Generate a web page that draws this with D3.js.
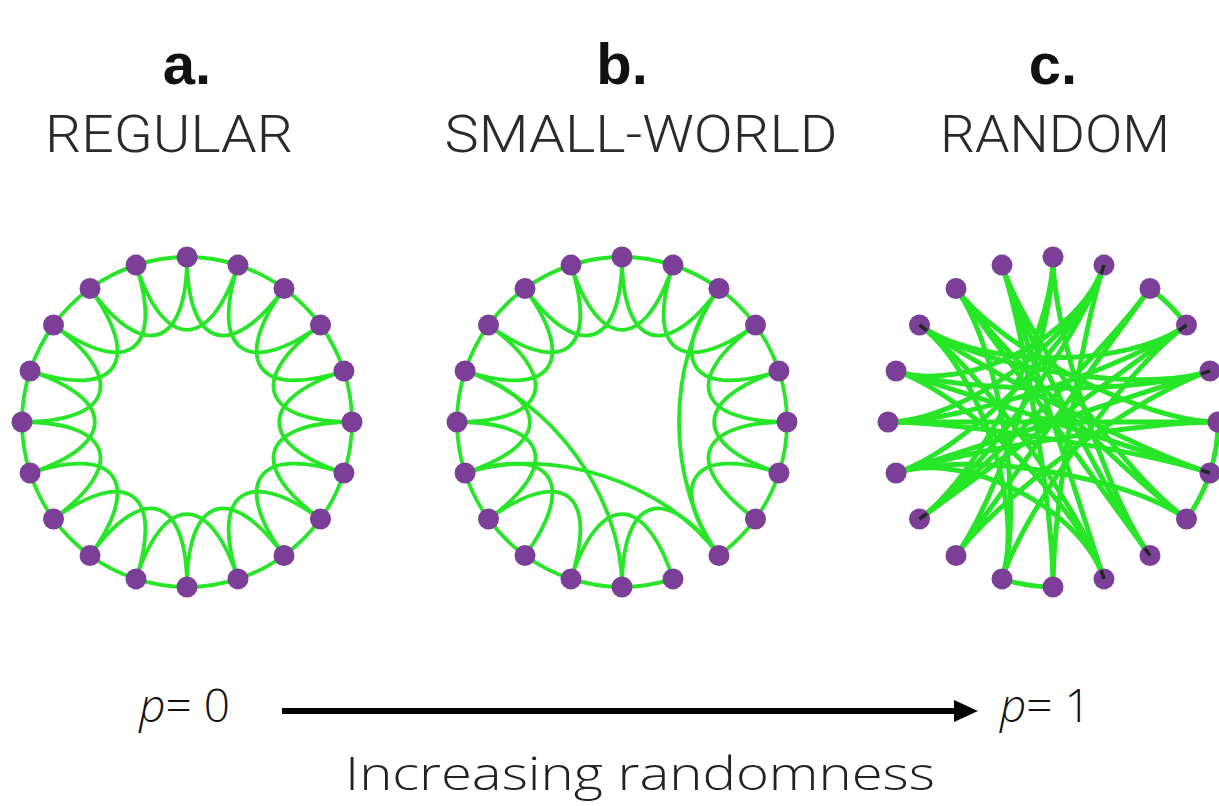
<!DOCTYPE html>
<html>
<head>
<meta charset="utf-8">
<script src="https://cdn.jsdelivr.net/npm/d3@7/dist/d3.min.js"></script>
<style>
  body { margin: 0; background: #fff; }
</style>
</head>
<body>
<svg id="chart" width="1219" height="806"></svg>
<script>
// ---- data ----
const panelLetters = ["a.", "b.", "c."];
const panelTitles = ["REGULAR", "SMALL-WORLD", "RANDOM"];
const nodeCount = 20;

// ring lattice, each node tied to its 2 neighbours on each side
const regularEdges = [
  [0,1],[1,2],[2,3],[3,4],[4,5],[5,6],[6,7],[7,8],[8,9],[9,10],
  [10,11],[11,12],[12,13],[13,14],[14,15],[15,16],[16,17],[17,18],[18,19],[19,0],
  [0,2],[1,3],[2,4],[3,5],[4,6],[5,7],[6,8],[7,9],[8,10],[9,11],
  [10,12],[11,13],[12,14],[13,15],[14,16],[15,17],[16,18],[17,19],[18,0],[19,1]
];

// a few of those rewired
const smallWorldEdges = [
  [0,1],[1,2],[2,3],[3,4],[4,5],[5,6],[6,7],[7,8],[9,10],
  [10,11],[11,12],[12,13],[13,14],[14,15],[15,16],[16,17],[17,18],[18,19],[19,0],
  [0,2],[1,3],[2,4],[3,5],[4,6],[5,7],[6,8],[8,10],[9,11],
  [11,13],[12,14],[13,15],[14,16],[15,17],[16,18],[17,19],[18,0],[19,1],
  [14,8],[16,10],[2,8]
];

// all rewired
const randomEdges = [
  [2,3],[10,11],[5,6],[6,7],[0,12],[0,8],[1,15],[1,14],[1,13],[1,16],
  [2,12],[3,17],[3,11],[3,13],[4,14],[4,16],[5,15],[6,16],[6,17],[6,15],
  [7,18],[7,14],[8,19],[9,17],[9,16],[10,1],[10,19],[11,18],[11,17],[12,4],
  [13,2],[14,5],[15,3],[17,4],[18,8],[19,7],[19,9],[9,14],[18,5],[0,13]
];
// edge ends drawn dark inside the node (first item = node)
const randomDarkEnds = [[1,13],[17,6],[3,13],[4,14],[6,16],[13,3],[8,19],[9,17]];

const pLabels = ["0", "1"];
const axisTitle = "Increasing randomness";

// ---- layout ----
const svg = d3.select("#chart");
const green = "#27e527", purple = "#7b3f98";
const R = 165, cy = 422;

const px = d3.scaleOrdinal().domain(panelTitles).range([187, 622, 1053]);
const angle = d3.scaleLinear().domain([0, nodeCount]).range([0, 2 * Math.PI]);
const nodes = d3.range(nodeCount);

// neighbours follow the ring, the rest bend in toward the centre
function edgePath(a, b, t) {
  const gap = (b - a + nodeCount) % nodeCount;
  const p = d3.pointRadial(angle(a), R), q = d3.pointRadial(angle(b), R);
  if (gap === 1 || gap === nodeCount - 1) {
    return "M" + p + "A" + R + "," + R + " 0 0 " + (gap === 1 ? 1 : 0) + " " + q;
  }
  const c1 = d3.pointRadial(angle(a), R * t), c2 = d3.pointRadial(angle(b), R * t);
  const path = d3.path();
  path.moveTo(p[0], p[1]);
  path.bezierCurveTo(c1[0], c1[1], c2[0], c2[1], q[0], q[1]);
  return path.toString();
}

const nets = [regularEdges, smallWorldEdges, randomEdges];
const widths = [3.8, 3.8, 5];
const bends = [0.45, 0.45, 0.55];

panelTitles.forEach(function(title, i) {
  const g = svg.append("g").attr("transform", "translate(" + px(title) + "," + cy + ")");

  g.selectAll("path.edge").data(nets[i]).enter().append("path")
    .attr("class", "edge")
    .attr("d", function(d) { return edgePath(d[0], d[1], bends[i]); })
    .attr("fill", "none")
    .attr("stroke", green)
    .attr("stroke-width", widths[i]);

  g.selectAll("circle").data(nodes).enter().append("circle")
    .attr("cx", function(d) { return d3.pointRadial(angle(d), R)[0]; })
    .attr("cy", function(d) { return d3.pointRadial(angle(d), R)[1]; })
    .attr("r", 10.5)
    .attr("fill", purple);

  if (i === 2) {
    g.selectAll("line.dark").data(randomDarkEnds).enter().append("line")
      .attr("class", "dark")
      .attr("x1", function(d) { return d3.pointRadial(angle(d[0]), R)[0]; })
      .attr("y1", function(d) { return d3.pointRadial(angle(d[0]), R)[1]; })
      .attr("x2", function(d) { return d3.pointRadial(angle(d[0]), R - 9)[0]; })
      .attr("y2", function(d) { return d3.pointRadial(angle(d[0]), R - 9)[1]; })
      .attr("stroke", "#1d2a1d")
      .attr("stroke-width", 3.5);
  }

  svg.append("text")
    .attr("x", px(title)).attr("y", 84)
    .attr("text-anchor", "middle")
    .style("font-family", "Liberation Sans, Arial, sans-serif")
    .style("font-weight", "bold")
    .style("font-size", "58px")
    .style("fill", "#111")
    .text(panelLetters[i]);
});

// titles with the widths
const titleX = [169, 641, 1055], titleW = [248, 393, 230];
svg.selectAll("text.title").data(panelTitles).enter().append("text")
  .attr("class", "title")
  .attr("x", function(d, i) { return titleX[i]; })
  .attr("y", 152)
  .attr("text-anchor", "middle")
  .attr("textLength", function(d, i) { return titleW[i]; })
  .attr("lengthAdjust", "spacingAndGlyphs")
  .style("font-family", "Roboto, sans-serif")
  .style("font-weight", 300)
  .style("font-size", "52px")
  .style("fill", "#2a2a2a")
  .text(function(d) { return d; });

// randomness axis
const p = d3.scaleLinear().domain([0, 1]).range([282, 978]);
const ay = 711;
svg.append("line")
  .attr("x1", p(0)).attr("x2", p(1) - 18)
  .attr("y1", ay).attr("y2", ay)
  .attr("stroke", "#000").attr("stroke-width", 6);
svg.append("path")
  .attr("d", "M" + p(1) + "," + ay + "L" + (p(1) - 24) + "," + (ay - 11) + "L" + (p(1) - 24) + "," + (ay + 11) + "Z")
  .attr("fill", "#000");

const pText = svg.selectAll("text.p").data(pLabels).enter().append("text")
  .attr("class", "p")
  .attr("x", function(d, i) { return i ? p(1) + 22 : p(0) - 52; })
  .attr("y", 722)
  .attr("text-anchor", function(d, i) { return i ? "start" : "end"; })
  .style("font-family", "Open Sans, sans-serif")
  .style("font-weight", 300)
  .style("font-size", "46px")
  .style("fill", "#111");
pText.append("tspan").style("font-style", "italic").text("p");
pText.append("tspan").text(function(d) { return "= " + d; });

svg.append("text")
  .attr("x", 640).attr("y", 790)
  .attr("text-anchor", "middle")
  .attr("textLength", 590)
  .attr("lengthAdjust", "spacingAndGlyphs")
  .style("font-family", "Open Sans, sans-serif")
  .style("font-weight", 300)
  .style("font-size", "46px")
  .style("fill", "#222")
  .text(axisTitle);
</script>
</body>
</html>
